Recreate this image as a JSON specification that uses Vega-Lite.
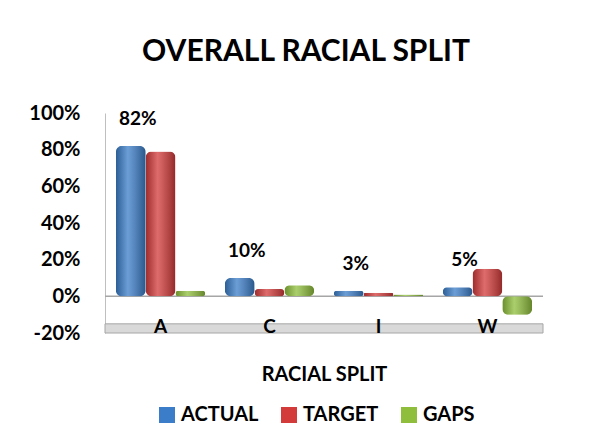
{
  "$schema": "https://vega.github.io/schema/vega-lite/v6.json",
  "width": 438,
  "height": 220,
  "autosize": "none",
  "padding": {"left": 105, "top": 113, "right": 60, "bottom": 115},
  "background": "white",
  "config": {
    "font": "Lato",
    "view": {"stroke": null}
  },
  "title": {
    "text": "OVERALL RACIAL SPLIT",
    "font": "Lato",
    "fontSize": 30,
    "fontWeight": "bold",
    "color": "#000000",
    "anchor": "middle",
    "dx": -18,
    "offset": 36
  },
  "data": {
    "values": [
      {"cat": "A", "series": "ACTUAL", "value": 82},
      {"cat": "A", "series": "TARGET", "value": 79},
      {"cat": "A", "series": "GAPS", "value": 3},
      {"cat": "C", "series": "ACTUAL", "value": 10},
      {"cat": "C", "series": "TARGET", "value": 4},
      {"cat": "C", "series": "GAPS", "value": 6},
      {"cat": "I", "series": "ACTUAL", "value": 3},
      {"cat": "I", "series": "TARGET", "value": 2},
      {"cat": "I", "series": "GAPS", "value": 1},
      {"cat": "W", "series": "ACTUAL", "value": 5},
      {"cat": "W", "series": "TARGET", "value": 15},
      {"cat": "W", "series": "GAPS", "value": -10}
    ]
  },
  "encoding": {
    "x": {
      "field": "cat",
      "type": "nominal",
      "scale": {"paddingInner": 0.18, "paddingOuter": 0.1},
      "axis": {
        "zindex": 2,
        "title": "RACIAL SPLIT",
        "titleFont": "Lato",
        "titleFontSize": 20,
        "titleFontWeight": "bold",
        "titleColor": "#000000",
        "titlePadding": 28,
        "labelFont": "Lato",
        "labelFontSize": 19,
        "labelFontWeight": "bold",
        "labelColor": "#000000",
        "labelAngle": 0,
        "labelPadding": -16,
        "labelOffset": 0,
        "ticks": false,
        "domain": false
      }
    },
    "xOffset": {"field": "series", "type": "nominal", "sort": ["ACTUAL", "TARGET", "GAPS"], "scale": {"paddingInner": 0, "paddingOuter": 0}},
    "y": {
      "field": "value",
      "type": "quantitative",
      "scale": {"domain": [-20, 100], "nice": false},
      "axis": {
        "title": null,
        "values": [-20, 0, 20, 40, 60, 80, 100],
        "labelExpr": "datum.value + '%'",
        "labelFont": "Lato",
        "labelFontSize": 20,
        "labelFontWeight": "bold",
        "labelColor": "#000000",
        "labelPadding": 25,
        "ticks": false,
        "grid": false,
        "domainColor": "#bfbfbf"
      }
    }
  },
  "layer": [
    {
      "data": {"values": [{"lo": -20, "hi": -15}]},
      "mark": {"type": "rect", "fill": "#d9d9d9", "stroke": "#a6a6a6", "strokeWidth": 1},
      "encoding": {
        "x": null,
        "xOffset": null,
        "y": {"field": "lo", "type": "quantitative"},
        "y2": {"field": "hi"}
      }
    },
    {
      "data": {"values": [{"zero": 0}]},
      "mark": {"type": "rule", "color": "#a6a6a6", "strokeWidth": 1.5},
      "encoding": {
        "x": null,
        "xOffset": null,
        "y": {"field": "zero", "type": "quantitative"}
      }
    },
    {
      "mark": {"type": "bar", "cornerRadius": 6},
      "encoding": {
        "color": {
          "field": "series",
          "type": "nominal",
          "sort": ["ACTUAL", "TARGET", "GAPS"],
          "scale": {"domain": ["ACTUAL", "TARGET", "GAPS"], "range": ["#3b7dc8", "#d33a3a", "#8fbe3c"]},
          "legend": {
            "title": null,
            "orient": "none",
            "legendX": 52,
            "legendY": 292,
            "direction": "horizontal",
            "symbolType": "square",
            "symbolSize": 256,
            "symbolStrokeWidth": 0,
            "labelFont": "Lato",
            "labelFontSize": 20,
            "labelFontWeight": "bold",
            "labelColor": "#000000",
            "columnPadding": 20,
            "labelOffset": 4
          }
        }
      }
    },
    {
      "mark": {
        "type": "bar",
        "cornerRadius": 6,
        "fill": {
          "gradient": "linear",
          "x1": 0, "x2": 1, "y1": 0, "y2": 0,
          "stops": [
            {"offset": 0, "color": "rgba(0,0,0,0.25)"},
            {"offset": 0.4, "color": "rgba(255,255,255,0.25)"},
            {"offset": 1, "color": "rgba(0,0,0,0.3)"}
          ]
        }
      }
    },
    {
      "transform": [
        {"filter": "datum.series == 'ACTUAL'"},
        {"calculate": "datum.value + '%'", "as": "label"}
      ],
      "mark": {"type": "text", "font": "Lato", "fontSize": 19, "fontWeight": "bold", "color": "#000000", "dy": -27, "dx": 7},
      "encoding": {
        "text": {"field": "label"}
      }
    }
  ]
}
